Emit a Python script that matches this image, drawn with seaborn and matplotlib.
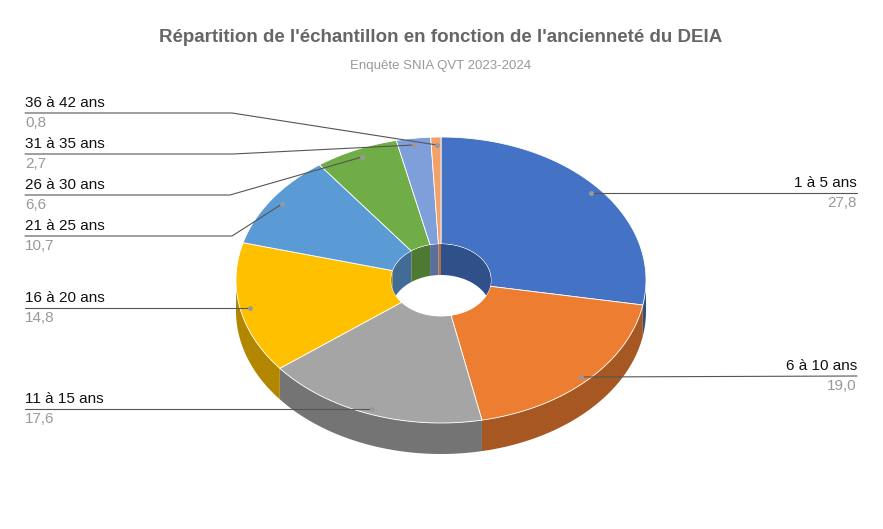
import numpy as np
import matplotlib
matplotlib.use('Agg')
import matplotlib.pyplot as plt
from matplotlib.patches import Polygon, Ellipse
import matplotlib.colors as mcolors
import seaborn as sns

sns.set_style('white')
plt.rcParams['font.family'] = ['Liberation Sans', 'DejaVu Sans']

# Données
labels = ['1 à 5 ans', '6 à 10 ans', '11 à 15 ans', '16 à 20 ans',
          '21 à 25 ans', '26 à 30 ans', '31 à 35 ans', '36 à 42 ans']
values = [27.8, 19.0, 17.6, 14.8, 10.7, 6.6, 2.7, 0.8]
colors = ['#4472C4', '#ED7D31', '#A5A5A5', '#FFC000',
          '#5B9BD5', '#70AD47', '#7F9FDA', '#F4A06A']

# Géométrie (pixels)
cx, cy, rx, ry, depth = 441, 280, 205, 143, 31
hrx, hry = 50, 36


def pt(a, sx, sy, dy=0):
    r = np.radians(a)
    return np.column_stack([cx + sx * np.cos(r), cy - sy * np.sin(r) + dy])


def dark(c, f=0.7):
    return tuple(np.array(mcolors.to_rgb(c)) * f)


fig = plt.figure(figsize=(8.83, 5.29), dpi=100)
ax = fig.add_axes([0, 0, 1, 1])
ax.set_xlim(0, 883)
ax.set_ylim(529, 0)
ax.axis('off')

bounds = 90 - 3.6 * np.concatenate([[0], np.cumsum(values)])

# parois extérieures (moitié avant)
for i, c in enumerate(colors):
    a1, a2 = bounds[i], bounds[i + 1]
    lo, hi = max(a2, -180), min(a1, 0)
    if hi > lo:
        t = np.linspace(hi, lo, 60)
        poly = np.vstack([pt(t, rx, ry), pt(t[::-1], rx, ry, depth)])
        ax.add_patch(Polygon(poly, color=dark(c), lw=0))

# faces supérieures
for i, c in enumerate(colors):
    t = np.linspace(bounds[i], bounds[i + 1], 120)
    poly = np.vstack([pt(t, rx, ry), pt(t[::-1], hrx, hry)])
    ax.add_patch(Polygon(poly, color=c, lw=0.6, ec='white'))

# trou central
hole = Ellipse((cx, cy), 2 * hrx, 2 * hry, color='white', lw=0)
ax.add_patch(hole)
for i, c in enumerate(colors):
    a1, a2 = bounds[i], bounds[i + 1]
    for lo, hi in [(max(a2, 0), min(a1, 90)), (max(a2, -270), min(a1, -180))]:
        if hi > lo:
            t = np.linspace(hi, lo, 40)
            poly = np.vstack([pt(t, hrx, hry), pt(t[::-1], hrx, hry, depth)])
            p = Polygon(poly, color=dark(c), lw=0)
            ax.add_patch(p)
            p.set_clip_path(hole)

# étiquettes : (ancre, x texte, y ligne, coude)
label_pos = [
    ((591, 193), 857, 193, None),
    ((581, 377), 857, 376, None),
    ((372, 409), 25, 409, None),
    ((250, 308), 25, 308, None),
    ((282, 204), 25, 236, 232),
    ((362, 157), 25, 195, 230),
    ((414, 145), 25, 154, 233),
    ((437, 145), 25, 113, 232),
]
for (name, v, (anc, tx, ly, elbow)) in zip(labels, values, label_pos):
    if elbow is None:
        xs, ys = [anc[0], tx], [anc[1], ly]
    else:
        xs, ys = [anc[0], elbow, tx], [anc[1], ly, ly]
    ax.plot(xs, ys, color='#555555', lw=0.8)
    ax.plot(*anc, 'o', ms=2.5, color='#999999')
    ha = 'right' if tx > 441 else 'left'
    ax.text(tx, ly - 3, name, ha=ha, va='bottom', fontsize=11, color='#111111')
    ax.text(tx, ly + 3, f'{v:.1f}'.replace('.', ','), ha=ha, va='top',
            fontsize=11, color='#999999')

ax.text(441, 38, "Répartition de l'échantillon en fonction de l'ancienneté du DEIA",
        ha='center', va='center', fontsize=13.5, fontweight='bold', color='#666666')
ax.text(441, 66, 'Enquête SNIA QVT 2023-2024', ha='center', va='center',
        fontsize=9.5, color='#999999')

fig.savefig('out.png', dpi=100)
